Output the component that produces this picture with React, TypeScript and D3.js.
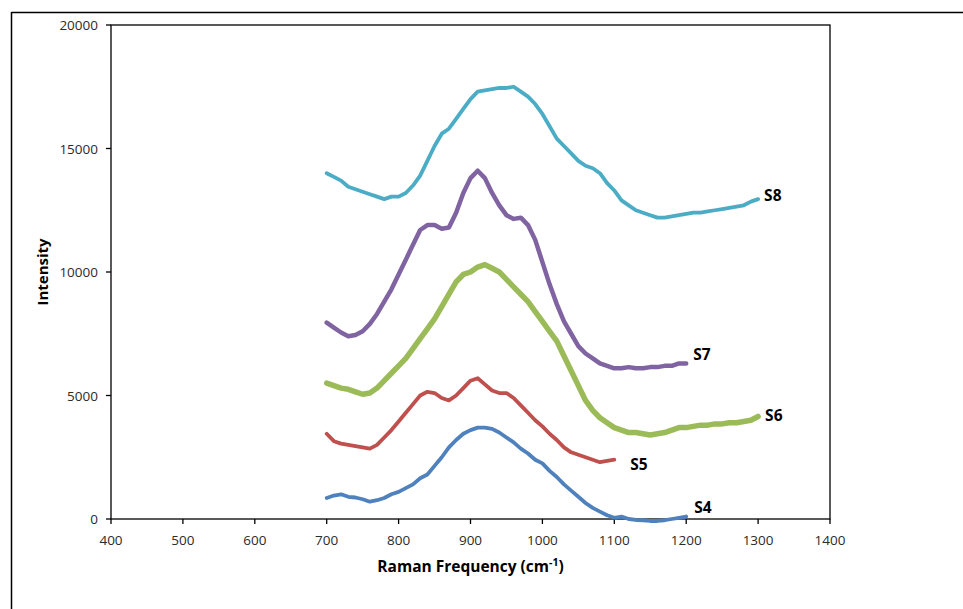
import React, { useEffect, useRef } from 'react';
import * as d3 from 'd3';

const W = 963;
const H = 609;

// Raman shift axis, sampled every 10 cm-1 starting at 700
const xStart = 700;
const xStep = 10;

const s4 = [850, 950, 1000, 900, 870, 800, 700, 760, 850, 1000, 1100, 1250, 1400, 1650, 1800, 2150, 2500, 2900, 3200, 3450, 3600, 3700, 3700, 3650, 3500, 3300, 3100, 2850, 2650, 2400, 2250, 1950, 1700, 1400, 1150, 900, 650, 450, 300, 150, 50, 100, 0, -40, -50, -80, -80, -50, 0, 50, 100];
const s5 = [3450, 3150, 3050, 3000, 2950, 2900, 2850, 3000, 3300, 3600, 3950, 4300, 4650, 5000, 5150, 5100, 4900, 4800, 5000, 5300, 5600, 5700, 5450, 5200, 5100, 5100, 4900, 4600, 4300, 4000, 3750, 3450, 3200, 2900, 2700, 2600, 2500, 2400, 2300, 2350, 2400];
const s6 = [5500, 5400, 5300, 5250, 5150, 5050, 5100, 5300, 5600, 5900, 6200, 6500, 6900, 7300, 7700, 8100, 8600, 9100, 9600, 9900, 10000, 10200, 10300, 10150, 10000, 9700, 9400, 9100, 8800, 8400, 8000, 7600, 7200, 6600, 6000, 5400, 4800, 4400, 4100, 3900, 3700, 3600, 3500, 3500, 3450, 3400, 3450, 3500, 3600, 3700, 3700, 3750, 3800, 3800, 3850, 3850, 3900, 3900, 3950, 4000, 4150];
const s7 = [7950, 7750, 7550, 7400, 7450, 7600, 7900, 8300, 8800, 9300, 9900, 10500, 11100, 11700, 11900, 11900, 11750, 11800, 12400, 13200, 13800, 14100, 13800, 13200, 12700, 12300, 12150, 12200, 11900, 11300, 10400, 9500, 8700, 8000, 7500, 7000, 6700, 6500, 6300, 6200, 6100, 6100, 6150, 6100, 6100, 6150, 6150, 6200, 6200, 6300, 6300];
const s8 = [14000, 13850, 13700, 13450, 13350, 13250, 13150, 13050, 12950, 13050, 13050, 13200, 13500, 13900, 14500, 15100, 15600, 15800, 16200, 16600, 17000, 17300, 17350, 17400, 17450, 17450, 17500, 17300, 17100, 16800, 16400, 15900, 15400, 15100, 14800, 14500, 14300, 14200, 14000, 13600, 13300, 12900, 12700, 12500, 12400, 12300, 12200, 12200, 12250, 12300, 12350, 12400, 12400, 12450, 12500, 12550, 12600, 12650, 12700, 12850, 12950];

const seriesNames = ['S4', 'S5', 'S6', 'S7', 'S8'];
const seriesValues = [s4, s5, s6, s7, s8];
const seriesColors = ['#4f81bd', '#c0504d', '#9bbb59', '#8064a2', '#4bacc6'];
const seriesWidths = [3.8, 3.8, 5.5, 4.5, 3.8];
// label offsets from each line's last point, in px
const labelDx = [8, 16, 7, 7, 6];
const labelDy = [-4, 10, 5, -3, 2];

const xTicks = [400, 500, 600, 700, 800, 900, 1000, 1100, 1200, 1300, 1400];
const yTicks = [0, 5000, 10000, 15000, 20000];

export default function App() {
  const ref = useRef<SVGSVGElement>(null);

  useEffect(() => {
    const svg = d3.select(ref.current);
    svg.selectAll('*').remove();

    const left = 111, right = 830, top = 25, bottom = 519;
    const x = d3.scaleLinear().domain([400, 1400]).range([left, right]);
    const y = d3.scaleLinear().domain([0, 20000]).range([bottom, top]);

    // outer frame (only top and left visible)
    svg.append('line').attr('x1', 11.5).attr('x2', W).attr('y1', 12.5).attr('y2', 12.5)
      .attr('stroke', '#000').attr('stroke-width', 1.5);
    svg.append('line').attr('x1', 11.5).attr('x2', 11.5).attr('y1', 12).attr('y2', H)
      .attr('stroke', '#000').attr('stroke-width', 1.5);

    // plot area border
    svg.append('rect').attr('x', left).attr('y', top).attr('width', right - left).attr('height', bottom - top)
      .attr('fill', 'none').attr('stroke', '#000').attr('stroke-width', 1.3);

    const font = 'Open Sans, Liberation Sans, sans-serif';

    // x axis
    const xg = svg.append('g');
    xTicks.forEach((t) => {
      xg.append('line').attr('x1', x(t)).attr('x2', x(t)).attr('y1', bottom).attr('y2', bottom + 5)
        .attr('stroke', '#000').attr('stroke-width', 1.3);
      xg.append('text').attr('x', x(t)).attr('y', bottom + 26).attr('text-anchor', 'middle')
        .attr('font-family', font).attr('font-size', 13.5).attr('fill', '#2b2b2b').text(t);
    });

    // y axis
    const yg = svg.append('g');
    yTicks.forEach((t) => {
      yg.append('line').attr('x1', left - 5).attr('x2', left).attr('y1', y(t)).attr('y2', y(t))
        .attr('stroke', '#000').attr('stroke-width', 1.3);
      yg.append('text').attr('x', left - 13).attr('y', y(t) + 5).attr('text-anchor', 'end')
        .attr('font-family', font).attr('font-size', 13.5).attr('fill', '#2b2b2b').text(t);
    });

    // series lines
    const line = d3.line<number>()
      .x((_, i) => x(xStart + i * xStep))
      .y((d) => y(d))
      .curve(d3.curveLinear);

    seriesValues.forEach((vals, k) => {
      svg.append('path').datum(vals)
        .attr('d', line)
        .attr('fill', 'none')
        .attr('stroke', seriesColors[k])
        .attr('stroke-width', seriesWidths[k])
        .attr('stroke-linejoin', 'round')
        .attr('stroke-linecap', 'round');
      const lastX = xStart + (vals.length - 1) * xStep;
      const lastY = vals[vals.length - 1];
      svg.append('text')
        .attr('x', x(lastX) + labelDx[k])
        .attr('y', y(lastY) + labelDy[k])
        .attr('font-family', font).attr('font-weight', 'bold').attr('font-size', 15.5)
        .attr('fill', '#000')
        .text(seriesNames[k]);
    });

    // axis titles
    svg.append('text').attr('transform', `translate(48,${(top + bottom) / 2}) rotate(-90)`)
      .attr('text-anchor', 'middle').attr('font-family', font).attr('font-weight', 'bold')
      .attr('font-size', 15).attr('fill', '#000').text('Intensity');

    const xt = svg.append('text').attr('x', (left + right) / 2).attr('y', 572)
      .attr('text-anchor', 'middle').attr('font-family', font).attr('font-weight', 'bold')
      .attr('font-size', 15.5).attr('fill', '#000');
    xt.append('tspan').text('Raman Frequency (cm');
    xt.append('tspan').attr('dy', -6).attr('font-size', 10.5).text('-1');
    xt.append('tspan').attr('dy', 6).text(')');
  }, []);

  return <svg ref={ref} width={W} height={H} style={{ position: 'absolute', left: 0, top: 0, background: '#fff' }} />;
}
